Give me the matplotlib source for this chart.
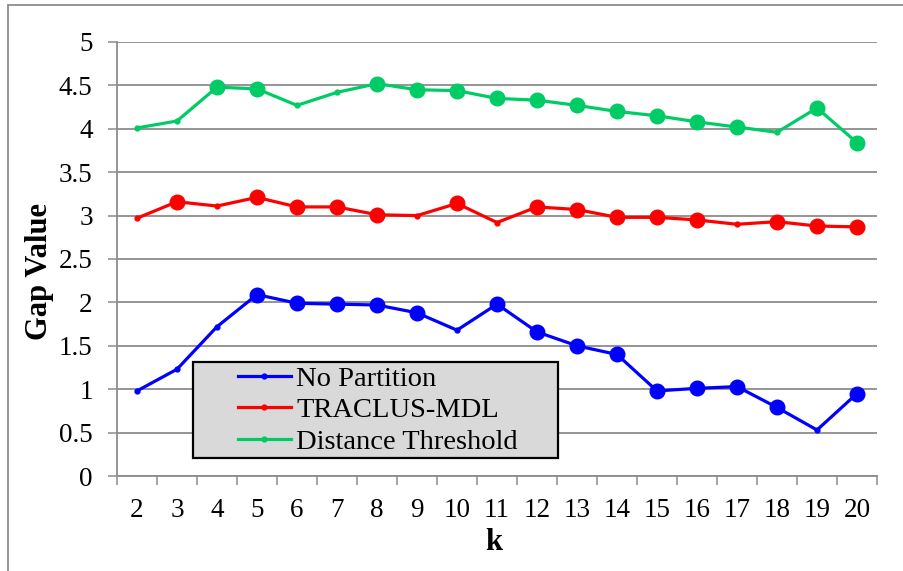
import matplotlib
matplotlib.use("Agg")
import matplotlib.pyplot as plt
from matplotlib.patches import Rectangle
import numpy as np

# ── data ───────────────────────────────────────────────────────────
k_values = [2, 3, 4, 5, 6, 7, 8, 9, 10, 11, 12, 13, 14, 15, 16, 17, 18, 19, 20]

no_partition = [0.98, 1.23, 1.72, 2.09, 1.99, 1.98, 1.97, 1.88, 1.68, 1.98,
                1.66, 1.50, 1.40, 0.98, 1.01, 1.03, 0.79, 0.53, 0.95]
traclus_mdl = [2.97, 3.16, 3.11, 3.21, 3.10, 3.10, 3.01, 3.00, 3.14, 2.92,
               3.10, 3.07, 2.98, 2.98, 2.95, 2.90, 2.93, 2.88, 2.87]
dist_threshold = [4.01, 4.09, 4.48, 4.46, 4.27, 4.42, 4.52, 4.45, 4.44, 4.35,
                  4.33, 4.27, 4.20, 4.15, 4.08, 4.02, 3.96, 4.24, 3.84]

# k values drawn with a highlighted (large) marker
no_partition_hl = [5, 6, 7, 8, 9, 11, 12, 13, 14, 15, 16, 17, 18, 20]
traclus_mdl_hl = [3, 5, 6, 7, 8, 10, 12, 13, 14, 15, 16, 18, 19, 20]
dist_threshold_hl = [4, 5, 8, 9, 10, 11, 12, 13, 14, 15, 16, 17, 19, 20]

series = [
    ("No Partition", no_partition, no_partition_hl, "#0000ff"),
    ("TRACLUS-MDL", traclus_mdl, traclus_mdl_hl, "#ff0000"),
    ("Distance Threshold", dist_threshold, dist_threshold_hl, "#00cc66"),
]

y_ticks = [0, 0.5, 1, 1.5, 2, 2.5, 3, 3.5, 4, 4.5, 5]
y_tick_labels = ["0", "0.5", "1", "1.5", "2", "2.5", "3", "3.5", "4", "4.5", "5"]

# ── figure ─────────────────────────────────────────────────────────
W, H = 904, 571
plt.rcParams["font.family"] = ["Liberation Serif", "DejaVu Serif"]
GRAY = "#8c8c8c"

fig = plt.figure(figsize=(W / 100, H / 100), dpi=100)
ax = fig.add_axes([117 / W, 1 - 476 / H, 760 / W, 434 / H])

# outer chart border
fig.add_artist(Rectangle((8 / W, -0.1), 1.2, 1.1 - 4.5 / H, transform=fig.transFigure,
                         fill=False, edgecolor=GRAY, linewidth=1.3))

x = np.arange(len(k_values))
handles = []
for name, vals, hl, col in series:
    line, = ax.plot(x, vals, color=col, linewidth=2.3, marker="o", markersize=3.5,
                    label=name, zorder=3)
    idx = [k_values.index(k) for k in hl]
    ax.plot(x[idx], np.array(vals)[idx], linestyle="none", marker="o",
            markersize=10.5, color=col, zorder=3)
    handles.append(line)

ax.set_xlim(-0.5, len(k_values) - 0.5)
ax.set_ylim(0, 5)

ax.set_yticks(y_ticks)
ax.set_yticklabels(y_tick_labels, fontsize=19.5)
ax.set_xticks(x)
ax.set_xticklabels([str(k) for k in k_values], fontsize=19.5)
ax.set_xticks(np.arange(len(k_values) + 1) - 0.5, minor=True)
ax.tick_params(axis="x", which="major", length=0, pad=16)
ax.tick_params(axis="x", which="minor", length=6.5, width=1.1, color=GRAY)
ax.tick_params(axis="y", length=6.5, width=1.1, color=GRAY, pad=11)

ax.grid(axis="y", color=GRAY, linewidth=1.3, zorder=0)
ax.set_axisbelow(True)
for s in ["top", "right"]:
    ax.spines[s].set_visible(False)
for s in ["left", "bottom"]:
    ax.spines[s].set_color(GRAY)
    ax.spines[s].set_linewidth(1.3)

fig.text(40 / W, 1 - 272 / H, "Gap Value", rotation=90, fontsize=22,
         fontweight="bold", ha="center", va="center")
fig.text(494 / W, 1 - 542 / H, "k", fontsize=22, fontweight="bold",
         ha="center", va="center")

# legend box
ax.add_patch(Rectangle((0.1, (476 - 458) / 434), (558 - 193) / 760, (458 - 362) / 434,
                       transform=ax.transAxes, facecolor="#d9d9d9", edgecolor="black",
                       linewidth=1.6, zorder=5))
leg = fig.legend(handles=handles, loc="upper left",
                 bbox_to_anchor=(238 / W, 1 - 366 / H), frameon=False,
                 fontsize=20.5, borderpad=0, borderaxespad=0, labelspacing=0.19,
                 handlelength=1.86, handletextpad=0.18, numpoints=1)
leg.set_zorder(6)

fig.savefig("out.png", dpi=100)
